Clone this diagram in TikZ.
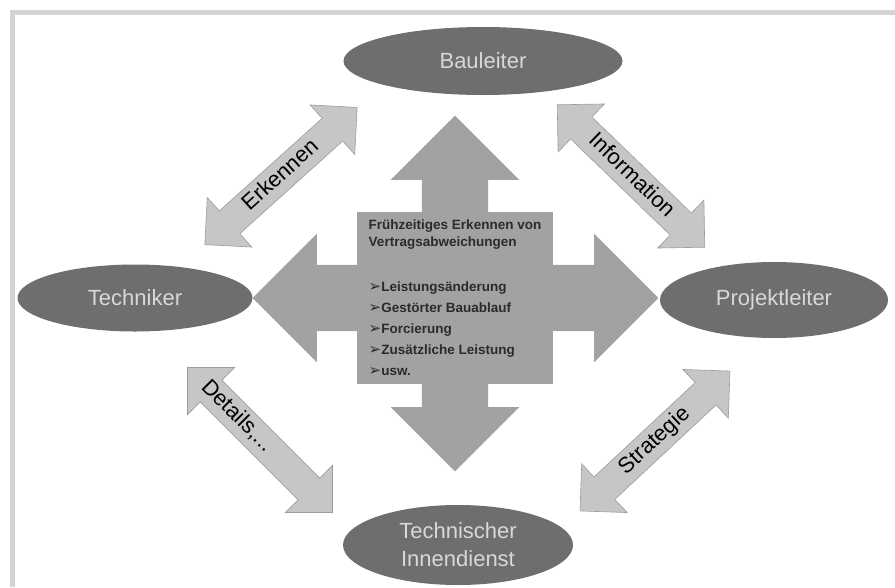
\documentclass[tikz,border=0pt]{standalone}
\usepackage{fontspec}
\setmainfont{Liberation Sans}
\newfontfamily\dingfont{DejaVu Sans}
\usetikzlibrary{shapes.geometric, shapes.arrows}
\definecolor{rahmengrau}{HTML}{D4D4D6}
\definecolor{ovalgrau}{HTML}{6E6E6E}
\definecolor{ovaltext}{HTML}{D8D8D8}
\definecolor{kreuzgrau}{HTML}{A2A2A2}
\definecolor{pfeilhell}{HTML}{C6C6C6}
\definecolor{pfeilkante}{HTML}{9C9C9C}
\definecolor{kerntext}{HTML}{2B2B2B}
\tikzset{
rolle/.style = { ellipse, fill = ovalgrau, text = ovaltext, font = \fontsize{22}{28}\selectfont, align = center, inner sep = 0pt },
kreuzarm/.style = { single arrow, fill = kreuzgrau, minimum width = 128pt, single arrow head extend = 31pt, single arrow tip angle = 90, inner xsep = 0pt, inner ysep = 33pt },
austausch/.style = { double arrow, draw = pfeilkante, fill = pfeilhell, line width = 0.6pt, minimum width = 66pt, minimum height = 205pt, double arrow head extend = 18pt, double arrow tip angle = 90, inner xsep = 1pt, inner ysep = 4.5pt, text height = 16pt, text depth = 5pt, font = \fontsize{22}{26}\selectfont },
}
\newcommand{\spitze}{{\dingfont\fontsize{15}{15}\selectfont ➢}}

\begin{document}
\begin{tikzpicture}[x=1pt, y=-1pt]
  \useasboundingbox (0,0) rectangle (895,587);
  \fill[white] (0,0) rectangle (895,587);
  % Rahmen oben und links
  \draw[rahmengrau, line width=5pt] (12.5,587) -- (12.5,12.5) -- (895,12.5);

  % Kreuz in der Mitte
  \node[fill=kreuzgrau, minimum width=196pt, minimum height=170pt, inner sep=8pt, text=kerntext, align=left, font=\bfseries\fontsize{13.5}{17}\selectfont] (kern) at (455,298) {Frühzeitiges Erkennen von\\Vertragsabweichungen\\[28pt]
    \spitze Leistungsänderung\\[4pt]
    \spitze Gestörter Bauablauf\\[4pt]
    \spitze Forcierung\\[4pt]
    \spitze Zusätzliche Leistung\\[4pt]
    \spitze usw.};
  \node[kreuzarm, rotate=90, minimum height=98pt, anchor=tail] (armoben) at ([yshift=-2pt]kern.north) {};
  \node[kreuzarm, rotate=-90, minimum height=89pt, anchor=tail] (armunten) at ([yshift=2pt]kern.south) {};
  \node[kreuzarm, rotate=180, minimum height=106pt, anchor=tail] (armlinks) at ([xshift=2pt]kern.west) {};
  \node[kreuzarm, minimum height=107pt, anchor=tail] (armrechts) at ([xshift=-2pt]kern.east) {};

  % Beteiligte
  \node[rolle, minimum width=279pt, minimum height=68pt] (bauleiter) at (483,61) {Bauleiter};
  \node[rolle, minimum width=235pt, minimum height=67pt] (techniker) at (135,298) {Techniker};
  \node[rolle, minimum width=228pt, minimum height=76pt] (projektleiter) at (774,300) {Projektleiter};
  \node[rolle, minimum width=230pt, minimum height=80pt] (innendienst) at (458,545) {Technischer\\Innendienst};

  % Austausch zwischen den Beteiligten
  \node[austausch, rotate=42] (erkennen) at (281,176) {Erkennen};
  \node[austausch, rotate=-44] (information) at (631,176) {Information};
  \node[austausch, rotate=-45, text width=130pt, align=left] (details) at (260,440) {\hspace*{-14pt}Details,...};
  \node[austausch, rotate=43] (strategie) at (655,441) {Strategie};
\end{tikzpicture}
\end{document}
